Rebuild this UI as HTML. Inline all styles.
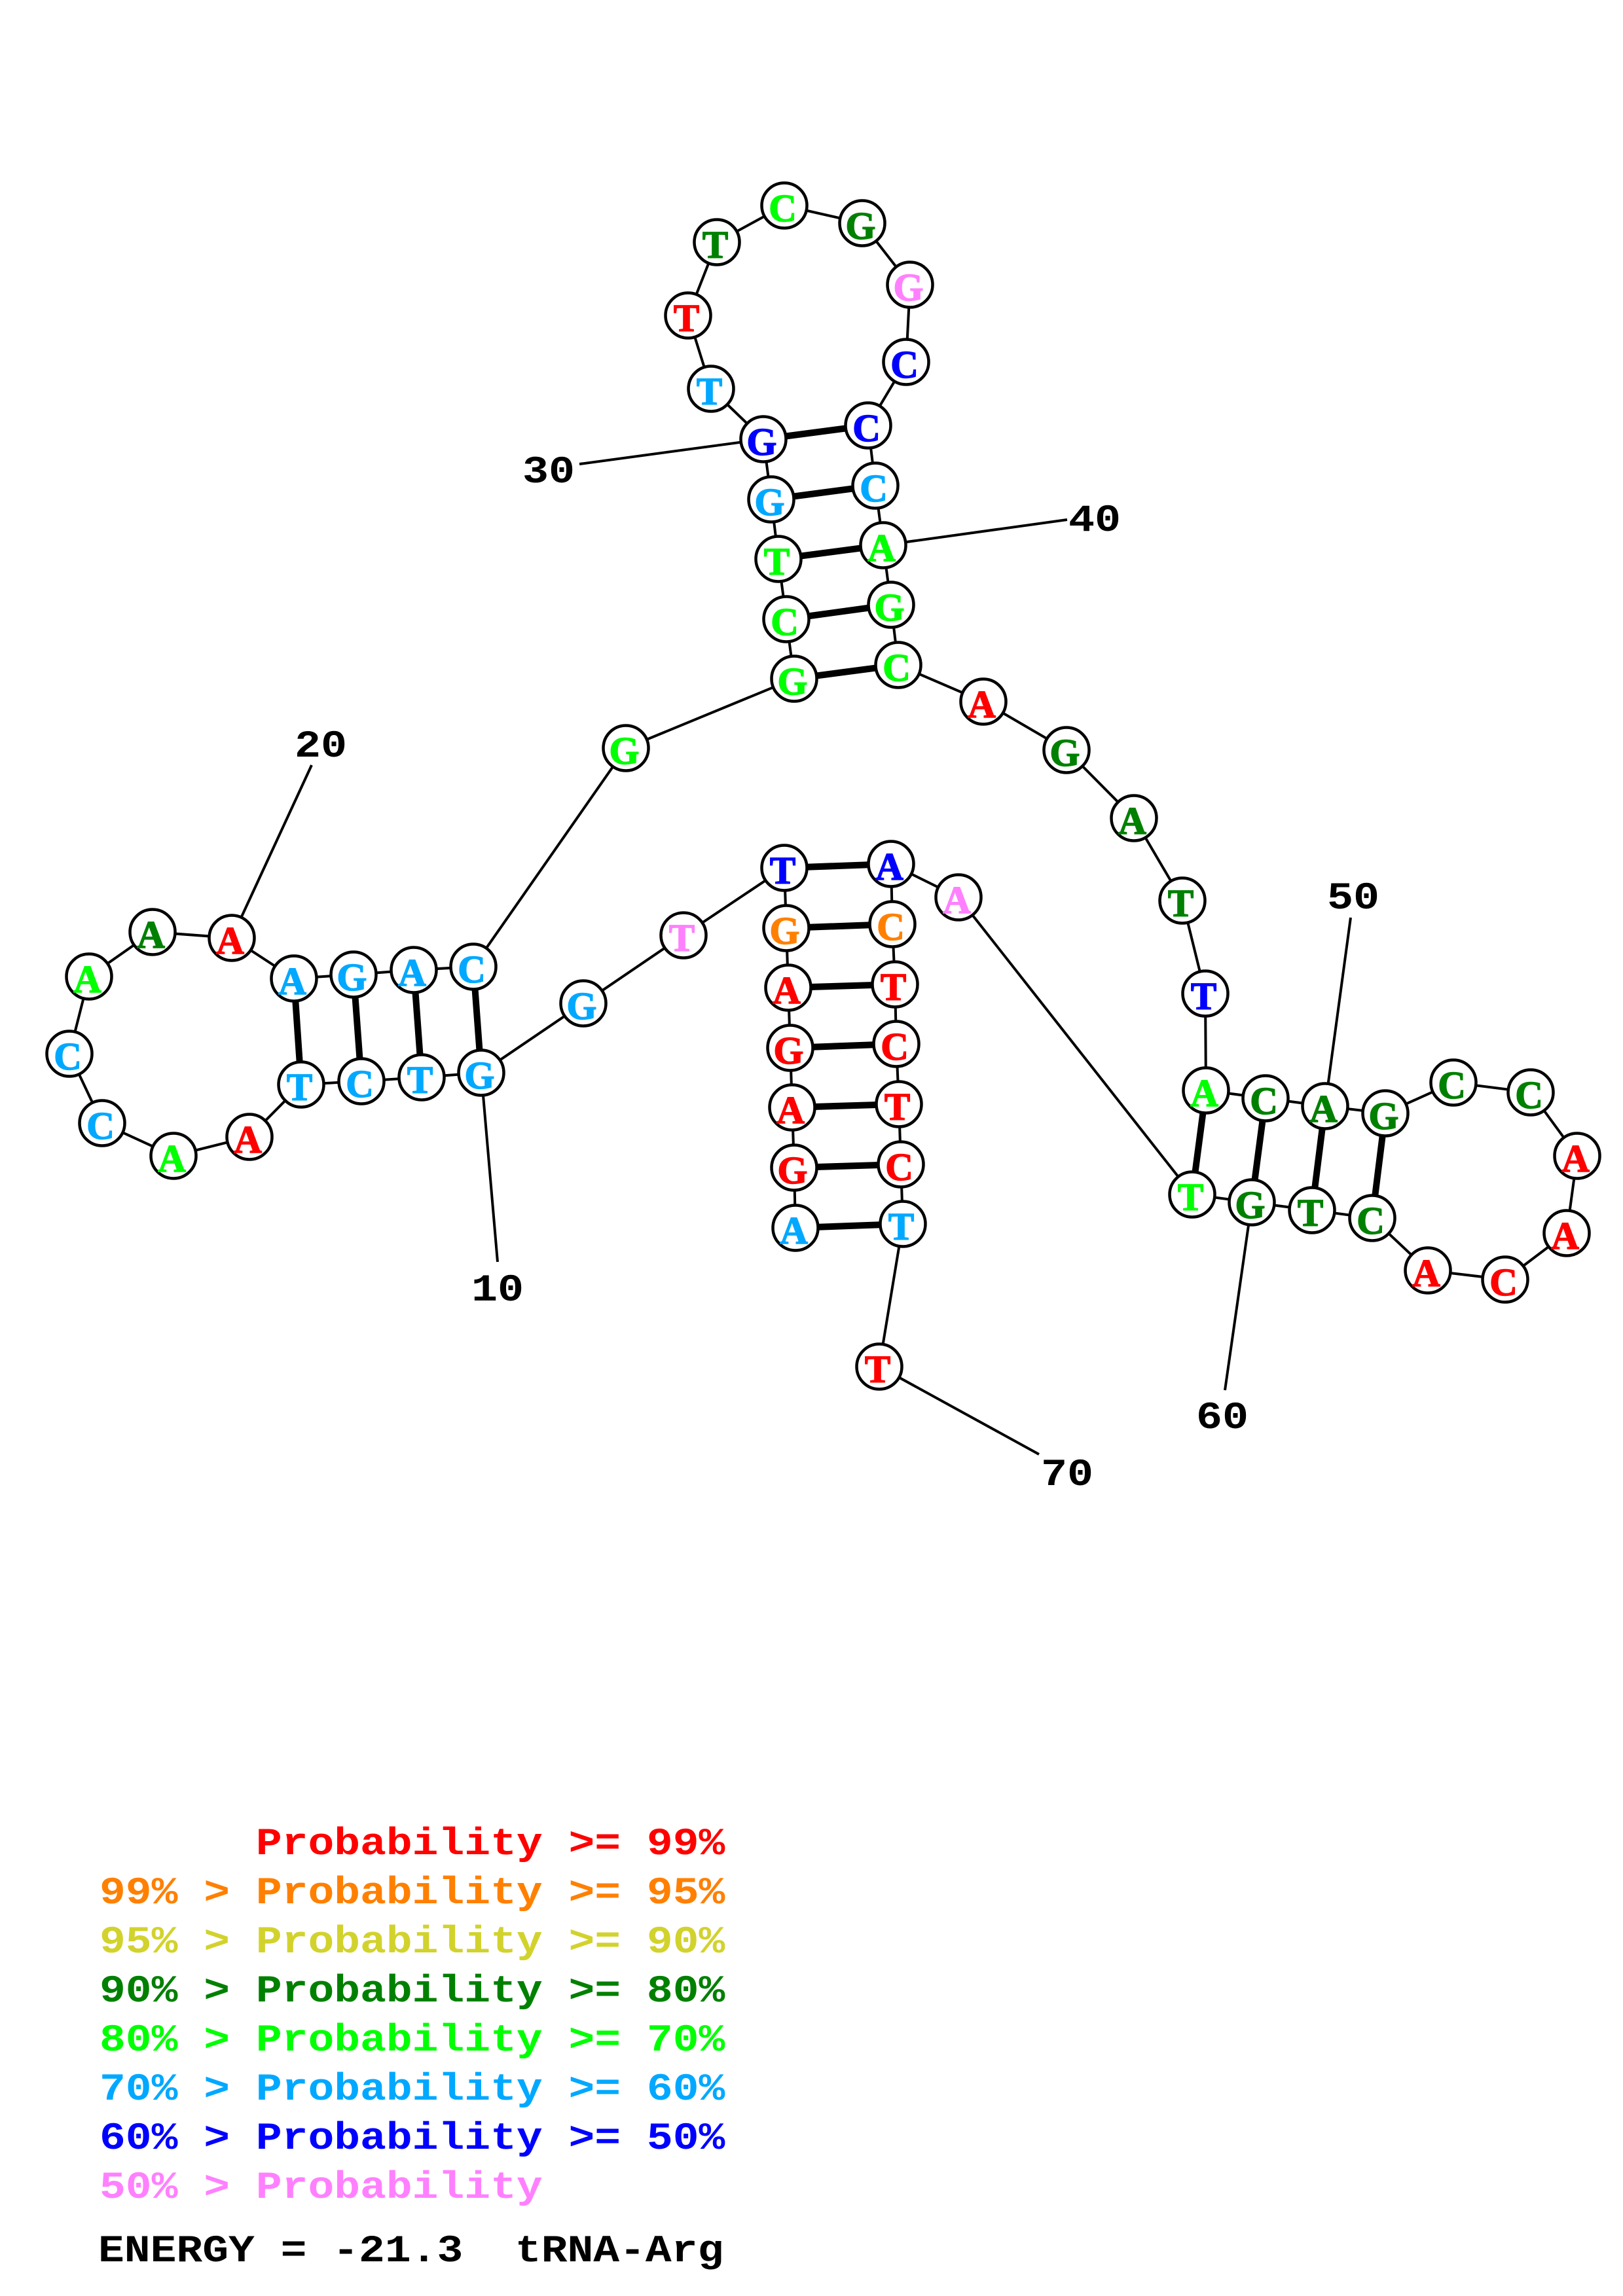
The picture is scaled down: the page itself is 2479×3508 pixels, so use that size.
<!DOCTYPE html>
<html><head><meta charset="utf-8"><style>
html,body{margin:0;padding:0;background:#fff}
svg{display:block}
.l{fill:none;stroke:#000;stroke-width:4}
.b{stroke:#000;stroke-width:10}
circle{fill:#fff;stroke:#000;stroke-width:4.5}
.n text{font-family:"Liberation Serif",serif;font-weight:bold;font-size:59px;text-anchor:middle;stroke-width:1.5}
.t text{font-family:"Liberation Mono",monospace;font-weight:bold;font-size:58px;white-space:pre;stroke:none}
.red{fill:#f00;stroke:#f00}.org{fill:#ff8000;stroke:#ff8000}.dk{fill:#008000;stroke:#008000}.grn{fill:#0f0;stroke:#0f0}.cy{fill:#00a8ff;stroke:#00a8ff}.blu{fill:#00f;stroke:#00f}.pnk{fill:#ff80ff;stroke:#ff80ff}
</style></head><body>
<svg width="2479" height="3508" viewBox="0 0 2479 3508" xmlns="http://www.w3.org/2000/svg">
<rect width="2479" height="3508" fill="#fff" style="stroke:none"/>
<polyline class="l" points="1215,1876 1213,1784 1210,1692 1207,1601 1204,1509 1201,1418 1198,1326 1044,1429 891,1533 735,1639 644,1646 552,1652 460,1657 381,1737 265,1766 156,1716 106,1610 136,1492 233,1424 354,1433 449,1495 540,1489 632,1482 723,1477 956,1143 1213,1037 1201,946 1189,854 1178,763 1166,671 1086,594 1051,482 1095,370 1198,314 1317,341 1390,435 1384,553 1326,650 1337,742 1349,833 1361,924 1372,1016 1502,1072 1629,1146 1732,1250 1806,1376 1841,1518 1842,1666 1933,1678 2024,1690 2116,1701 2220,1654 2338,1669 2409,1766 2393,1884 2299,1955 2181,1941 2096,1861 2004,1849 1912,1837 1821,1825 1464,1371 1361,1320 1363,1412 1367,1504 1369,1595 1373,1687 1376,1779 1379,1870 1343,2088"/>
<g class="l">
<line x1="735" y1="1639" x2="760" y2="1928"/>
<line x1="354" y1="1433" x2="476" y2="1169"/>
<line x1="1166" y1="671" x2="885" y2="709"/>
<line x1="1349" y1="833" x2="1630" y2="794"/>
<line x1="2024" y1="1690" x2="2063" y2="1402"/>
<line x1="1912" y1="1837" x2="1871" y2="2124"/>
<line x1="1343" y1="2088" x2="1587" y2="2222"/>
</g>
<g class="b">
<line x1="1215" y1="1876" x2="1379" y2="1870"/>
<line x1="1213" y1="1784" x2="1376" y2="1779"/>
<line x1="1210" y1="1692" x2="1373" y2="1687"/>
<line x1="1207" y1="1601" x2="1369" y2="1595"/>
<line x1="1204" y1="1509" x2="1367" y2="1504"/>
<line x1="1201" y1="1418" x2="1363" y2="1412"/>
<line x1="1198" y1="1326" x2="1361" y2="1320"/>
<line x1="735" y1="1639" x2="723" y2="1477"/>
<line x1="644" y1="1646" x2="632" y2="1482"/>
<line x1="552" y1="1652" x2="540" y2="1489"/>
<line x1="460" y1="1657" x2="449" y2="1495"/>
<line x1="1213" y1="1037" x2="1372" y2="1016"/>
<line x1="1201" y1="946" x2="1361" y2="924"/>
<line x1="1189" y1="854" x2="1349" y2="833"/>
<line x1="1178" y1="763" x2="1337" y2="742"/>
<line x1="1166" y1="671" x2="1326" y2="650"/>
<line x1="1842" y1="1666" x2="1821" y2="1825"/>
<line x1="1933" y1="1678" x2="1912" y2="1837"/>
<line x1="2024" y1="1690" x2="2004" y2="1849"/>
<line x1="2116" y1="1701" x2="2096" y2="1861"/>
</g>
<g class="n">
<circle cx="1215" cy="1876" r="34.5"/><text x="1212.5" y="1900" class="cy">A</text>
<circle cx="1213" cy="1784" r="34.5"/><text x="1210.5" y="1808" class="red">G</text>
<circle cx="1210" cy="1692" r="34.5"/><text x="1207.5" y="1716" class="red">A</text>
<circle cx="1207" cy="1601" r="34.5"/><text x="1204.5" y="1625" class="red">G</text>
<circle cx="1204" cy="1509" r="34.5"/><text x="1201.5" y="1533" class="red">A</text>
<circle cx="1201" cy="1418" r="34.5"/><text x="1198.5" y="1442" class="org">G</text>
<circle cx="1198" cy="1326" r="34.5"/><text x="1195.5" y="1350" class="blu">T</text>
<circle cx="1044" cy="1429" r="34.5"/><text x="1041.5" y="1453" class="pnk">T</text>
<circle cx="891" cy="1533" r="34.5"/><text x="888.5" y="1557" class="cy">G</text>
<circle cx="735" cy="1639" r="34.5"/><text x="732.5" y="1663" class="cy">G</text>
<circle cx="644" cy="1646" r="34.5"/><text x="641.5" y="1670" class="cy">T</text>
<circle cx="552" cy="1652" r="34.5"/><text x="549.5" y="1676" class="cy">C</text>
<circle cx="460" cy="1657" r="34.5"/><text x="457.5" y="1681" class="cy">T</text>
<circle cx="381" cy="1737" r="34.5"/><text x="378.5" y="1761" class="red">A</text>
<circle cx="265" cy="1766" r="34.5"/><text x="262.5" y="1790" class="grn">A</text>
<circle cx="156" cy="1716" r="34.5"/><text x="153.5" y="1740" class="cy">C</text>
<circle cx="106" cy="1610" r="34.5"/><text x="103.5" y="1634" class="cy">C</text>
<circle cx="136" cy="1492" r="34.5"/><text x="133.5" y="1516" class="grn">A</text>
<circle cx="233" cy="1424" r="34.5"/><text x="230.5" y="1448" class="dk">A</text>
<circle cx="354" cy="1433" r="34.5"/><text x="351.5" y="1457" class="red">A</text>
<circle cx="449" cy="1495" r="34.5"/><text x="446.5" y="1519" class="cy">A</text>
<circle cx="540" cy="1489" r="34.5"/><text x="537.5" y="1513" class="cy">G</text>
<circle cx="632" cy="1482" r="34.5"/><text x="629.5" y="1506" class="cy">A</text>
<circle cx="723" cy="1477" r="34.5"/><text x="720.5" y="1501" class="cy">C</text>
<circle cx="956" cy="1143" r="34.5"/><text x="953.5" y="1167" class="grn">G</text>
<circle cx="1213" cy="1037" r="34.5"/><text x="1210.5" y="1061" class="grn">G</text>
<circle cx="1201" cy="946" r="34.5"/><text x="1198.5" y="970" class="grn">C</text>
<circle cx="1189" cy="854" r="34.5"/><text x="1186.5" y="878" class="grn">T</text>
<circle cx="1178" cy="763" r="34.5"/><text x="1175.5" y="787" class="cy">G</text>
<circle cx="1166" cy="671" r="34.5"/><text x="1163.5" y="695" class="blu">G</text>
<circle cx="1086" cy="594" r="34.5"/><text x="1083.5" y="618" class="cy">T</text>
<circle cx="1051" cy="482" r="34.5"/><text x="1048.5" y="506" class="red">T</text>
<circle cx="1095" cy="370" r="34.5"/><text x="1092.5" y="394" class="dk">T</text>
<circle cx="1198" cy="314" r="34.5"/><text x="1195.5" y="338" class="grn">C</text>
<circle cx="1317" cy="341" r="34.5"/><text x="1314.5" y="365" class="dk">G</text>
<circle cx="1390" cy="435" r="34.5"/><text x="1387.5" y="459" class="pnk">G</text>
<circle cx="1384" cy="553" r="34.5"/><text x="1381.5" y="577" class="blu">C</text>
<circle cx="1326" cy="650" r="34.5"/><text x="1323.5" y="674" class="blu">C</text>
<circle cx="1337" cy="742" r="34.5"/><text x="1334.5" y="766" class="cy">C</text>
<circle cx="1349" cy="833" r="34.5"/><text x="1346.5" y="857" class="grn">A</text>
<circle cx="1361" cy="924" r="34.5"/><text x="1358.5" y="948" class="grn">G</text>
<circle cx="1372" cy="1016" r="34.5"/><text x="1369.5" y="1040" class="grn">C</text>
<circle cx="1502" cy="1072" r="34.5"/><text x="1499.5" y="1096" class="red">A</text>
<circle cx="1629" cy="1146" r="34.5"/><text x="1626.5" y="1170" class="dk">G</text>
<circle cx="1732" cy="1250" r="34.5"/><text x="1729.5" y="1274" class="dk">A</text>
<circle cx="1806" cy="1376" r="34.5"/><text x="1803.5" y="1400" class="dk">T</text>
<circle cx="1841" cy="1518" r="34.5"/><text x="1838.5" y="1542" class="blu">T</text>
<circle cx="1842" cy="1666" r="34.5"/><text x="1839.5" y="1690" class="grn">A</text>
<circle cx="1933" cy="1678" r="34.5"/><text x="1930.5" y="1702" class="dk">C</text>
<circle cx="2024" cy="1690" r="34.5"/><text x="2021.5" y="1714" class="dk">A</text>
<circle cx="2116" cy="1701" r="34.5"/><text x="2113.5" y="1725" class="dk">G</text>
<circle cx="2220" cy="1654" r="34.5"/><text x="2217.5" y="1678" class="dk">C</text>
<circle cx="2338" cy="1669" r="34.5"/><text x="2335.5" y="1693" class="dk">C</text>
<circle cx="2409" cy="1766" r="34.5"/><text x="2406.5" y="1790" class="red">A</text>
<circle cx="2393" cy="1884" r="34.5"/><text x="2390.5" y="1908" class="red">A</text>
<circle cx="2299" cy="1955" r="34.5"/><text x="2296.5" y="1979" class="red">C</text>
<circle cx="2181" cy="1941" r="34.5"/><text x="2178.5" y="1965" class="red">A</text>
<circle cx="2096" cy="1861" r="34.5"/><text x="2093.5" y="1885" class="dk">C</text>
<circle cx="2004" cy="1849" r="34.5"/><text x="2001.5" y="1873" class="dk">T</text>
<circle cx="1912" cy="1837" r="34.5"/><text x="1909.5" y="1861" class="dk">G</text>
<circle cx="1821" cy="1825" r="34.5"/><text x="1818.5" y="1849" class="grn">T</text>
<circle cx="1464" cy="1371" r="34.5"/><text x="1461.5" y="1395" class="pnk">A</text>
<circle cx="1361" cy="1320" r="34.5"/><text x="1358.5" y="1344" class="blu">A</text>
<circle cx="1363" cy="1412" r="34.5"/><text x="1360.5" y="1436" class="org">C</text>
<circle cx="1367" cy="1504" r="34.5"/><text x="1364.5" y="1528" class="red">T</text>
<circle cx="1369" cy="1595" r="34.5"/><text x="1366.5" y="1619" class="red">C</text>
<circle cx="1373" cy="1687" r="34.5"/><text x="1370.5" y="1711" class="red">T</text>
<circle cx="1376" cy="1779" r="34.5"/><text x="1373.5" y="1803" class="red">C</text>
<circle cx="1379" cy="1870" r="34.5"/><text x="1376.5" y="1894" class="cy">T</text>
<circle cx="1343" cy="2088" r="34.5"/><text x="1340.5" y="2112" class="red">T</text>
</g>
<g class="t">
<text fill="#000" transform="translate(720,1987) scale(1.15,1)">10</text>
<text fill="#000" transform="translate(450,1156) scale(1.15,1)">20</text>
<text fill="#000" transform="translate(798,737) scale(1.15,1)">30</text>
<text fill="#000" transform="translate(1632,811) scale(1.15,1)">40</text>
<text fill="#000" transform="translate(2027,1388) scale(1.15,1)">50</text>
<text fill="#000" transform="translate(1827,2182) scale(1.15,1)">60</text>
<text fill="#000" transform="translate(1590,2269) scale(1.15,1)">70</text>
<text style="fill:#f00" transform="translate(152,2833) scale(1.144,1)">      Probability &gt;= 99%</text>
<text style="fill:#ff8000" transform="translate(152,2908) scale(1.144,1)">99% &gt; Probability &gt;= 95%</text>
<text style="fill:#d2d22d" transform="translate(152,2983) scale(1.144,1)">95% &gt; Probability &gt;= 90%</text>
<text style="fill:#008000" transform="translate(152,3058) scale(1.144,1)">90% &gt; Probability &gt;= 80%</text>
<text style="fill:#0f0" transform="translate(152,3133) scale(1.144,1)">80% &gt; Probability &gt;= 70%</text>
<text style="fill:#00a8ff" transform="translate(152,3208) scale(1.144,1)">70% &gt; Probability &gt;= 60%</text>
<text style="fill:#00f" transform="translate(152,3283) scale(1.144,1)">60% &gt; Probability &gt;= 50%</text>
<text style="fill:#ff80ff" transform="translate(152,3358) scale(1.144,1)">50% &gt; Probability</text>
<text fill="#000" transform="translate(150,3455) scale(1.144,1)">ENERGY = -21.3  tRNA-Arg</text>
</g>
</svg>
</body></html>
